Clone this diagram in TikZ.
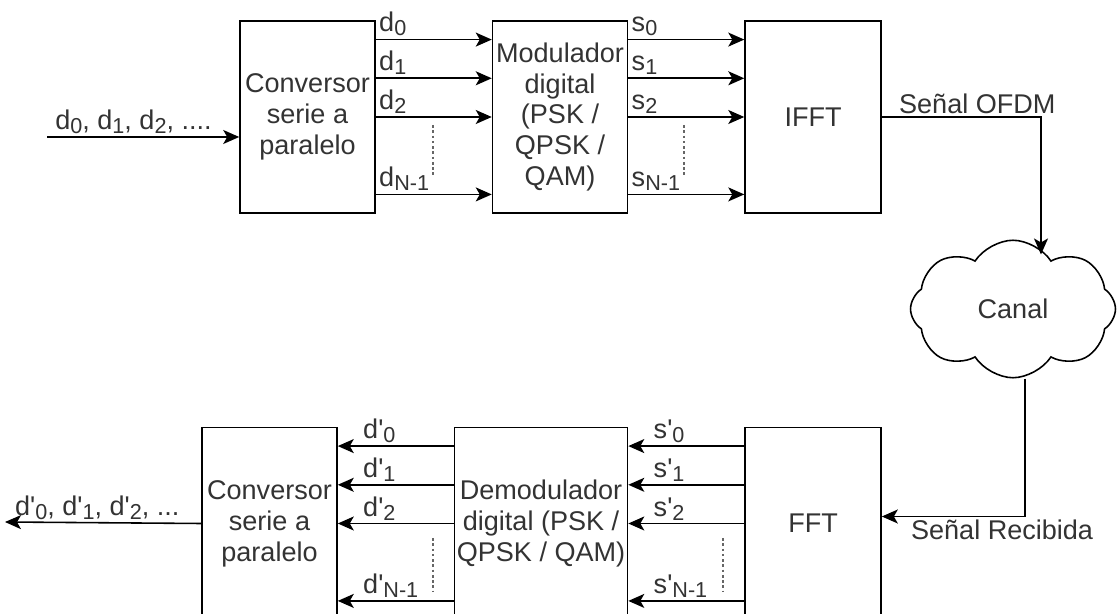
\documentclass[tikz,border=0pt]{standalone}
\usepackage{fontspec}
\setmainfont{Liberation Sans}
\usetikzlibrary{arrows.meta, positioning, shapes.symbols, calc}

\newcommand{\idx}[1]{\raisebox{-2.3pt}{\fontsize{12.3}{12.3}\selectfont #1}}
\newcommand{\qs}{\textquotesingle}

\begin{document}
\begin{tikzpicture}[
  x=0.02cm, y=-0.02cm,
  node distance=4.26cm and 2.32cm,
  box/.style={draw, line width=0.9pt, align=center, inner sep=1pt, text=black!80, font=\fontsize{15.4}{17.6}\selectfont, minimum height=3.84cm},
  arrow/.style={-{Stealth[length=3.2mm, width=2.8mm, inset=0.8mm]}, line width=0.9pt},
  lbl/.style={inner sep=1.5pt, text=black!80, font=\fontsize{15.4}{17.6}\selectfont},
  dots/.style={dash pattern=on 1.5pt off 1.5pt, line width=0.6pt, black!60}
]
\useasboundingbox (0,0) rectangle (1117,614);
\clip (0,0) rectangle (1117,614);

% transmisor
\node[box, minimum width=2.7cm] (conv) at (307.5,117) {Conversor\\serie a\\paralelo};
\node[box, minimum width=2.7cm, right=of conv] (modu) {Modulador\\digital\\(PSK /\\QPSK /\\QAM)};
\node[box, minimum width=2.72cm, right=of modu] (ifft) {IFFT};
\node[cloud, draw, line width=0.9pt, cloud puffs=8, cloud puff arc=115, aspect=1.6,
      minimum width=4.1cm, minimum height=2.75cm, text=black!80,
      font=\fontsize{15.4}{17.6}\selectfont] (canal) at (1013,309) {Canal};

% receptor
\node[box, minimum width=2.72cm, below=of ifft] (fft) {FFT};
\node[box, minimum width=3.46cm, left=of fft] (demod) {Demodulador\\digital (PSK /\\QPSK / QAM)};
\node[box, minimum width=2.7cm, left=of demod] (conv2) {Conversor\\serie a\\paralelo};

\coordinate (in) at (47,137);
\coordinate (out) at (5,522);

\draw[arrow] (in) -- node[lbl, pos=0.45, above] {d\idx{0}, d\idx{1}, d\idx{2}, ....} (in -| conv.west);
\draw[arrow] (conv2.west) -- node[lbl, pos=0.53, above] {d\qs\idx{0}, d\qs\idx{1}, d\qs\idx{2}, ...} (out);

% lineas paralelas
\foreach \f/\i in {.1/0, .3/1, .5/2, .9/N-1} {
  \draw[arrow] ($(conv.north east)!\f!(conv.south east)$) -- node[lbl, pos=0, anchor=south west] {d\idx{\i}} ($(modu.north west)!\f!(modu.south west)$);
  \draw[arrow] ($(modu.north east)!\f!(modu.south east)$) -- node[lbl, pos=0, anchor=south west] {s\idx{\i}} ($(ifft.north west)!\f!(ifft.south west)$);
  \draw[arrow] ($(fft.north west)!\f!(fft.south west)$) -- node[lbl, pos=1, anchor=south west, xshift=0.44cm] {s\qs\idx{\i}} ($(demod.north east)!\f!(demod.south east)$);
  \draw[arrow] ($(demod.north west)!\f!(demod.south west)$) -- node[lbl, pos=1, anchor=south west, xshift=0.44cm] {d\qs\idx{\i}} ($(conv2.north east)!\f!(conv2.south east)$);
}
\draw[dots] (433,125) -- (433,175);
\draw[dots] (684,125) -- (684,175);
\draw[dots] (433,538) -- (433,592);
\draw[dots] (723,538) -- (723,592);

\draw[arrow] (ifft.east) -| node[lbl, pos=0.3, above] {Señal OFDM} ([xshift=0.56cm, yshift=-0.3cm]canal.north);
\draw[arrow] ([xshift=0.24cm]canal.south) |- node[lbl, pos=0.58, below] {Señal Recibida} ([yshift=0.14cm]fft.east);
\end{tikzpicture}
\end{document}
